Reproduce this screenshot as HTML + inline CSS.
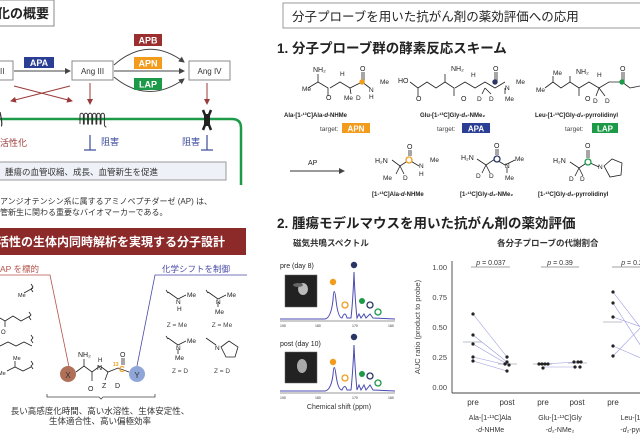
<!DOCTYPE html>
<html><head><meta charset="utf-8"><style>
html,body{margin:0;padding:0;background:#fff}
svg{display:block}
text{font-family:"Liberation Sans","Noto Sans CJK JP",sans-serif}
</style></head><body>
<svg width="640" height="440" viewBox="0 0 640 440" xmlns="http://www.w3.org/2000/svg">
<defs>
<marker id="ag" markerWidth="6" markerHeight="6" refX="5" refY="3" orient="auto"><path d="M0,0 L6,3 L0,6 z" fill="#444"/></marker>
<marker id="ar" markerWidth="6" markerHeight="6" refX="5" refY="3" orient="auto"><path d="M0,0 L6,3 L0,6 z" fill="#9b3a3a"/></marker>
</defs>
<!-- LEFT TOP -->
<rect x="-2" y="0" width="56" height="26" fill="#fff" stroke="#888" stroke-width="1"/>
<text x="-3" y="18" font-size="13" font-weight="bold" fill="#222">化の概要</text>
<rect x="-2" y="61" width="15" height="19" fill="#fff" stroke="#888"/>
<text x="0" y="74" font-size="8" fill="#333">II</text>
<line x1="14" y1="71" x2="70" y2="71" stroke="#444" stroke-width="1" marker-end="url(#ag)"/>
<rect x="24" y="57" width="30" height="11" fill="#2a3f94"/>
<text x="39" y="66" font-size="9" font-weight="bold" fill="#fff" text-anchor="middle">APA</text>
<rect x="72" y="61" width="41" height="19" fill="#fff" stroke="#888"/>
<text x="92.5" y="74" font-size="8" fill="#333" text-anchor="middle">Ang III</text>
<path d="M114,65 Q148,35 184,62" fill="none" stroke="#444" marker-end="url(#ag)"/>
<line x1="114" y1="71" x2="184" y2="71" stroke="#444" marker-end="url(#ag)"/>
<path d="M114,77 Q148,105 184,79" fill="none" stroke="#444" marker-end="url(#ag)"/>
<rect x="134" y="34" width="28" height="12" fill="#9b2e2e"/>
<text x="148" y="43.5" font-size="9" font-weight="bold" fill="#fff" text-anchor="middle">APB</text>
<rect x="134" y="57" width="28" height="12" fill="#f29b1d"/>
<text x="148" y="66.5" font-size="9" font-weight="bold" fill="#fff" text-anchor="middle">APN</text>
<rect x="134" y="78" width="28" height="12" fill="#1d9a48"/>
<text x="148" y="87.5" font-size="9" font-weight="bold" fill="#fff" text-anchor="middle">LAP</text>
<rect x="189" y="61" width="41" height="19" fill="#fff" stroke="#888"/>
<text x="209.5" y="74" font-size="8" fill="#333" text-anchor="middle">Ang IV</text>
<line x1="14" y1="86" x2="72" y2="101" stroke="#9b3a3a" marker-end="url(#ar)"/>
<line x1="70" y1="86" x2="11" y2="101" stroke="#9b3a3a" marker-end="url(#ar)"/>
<line x1="90" y1="83" x2="90" y2="104" stroke="#9b3a3a" marker-end="url(#ar)"/>
<line x1="207" y1="83" x2="207" y2="104" stroke="#9b3a3a" marker-end="url(#ar)"/>
<path d="M0,119 L232,119 Q241,119 241,128 L241,185" fill="none" stroke="#1d9a48" stroke-width="2.5"/>
<path d="M0,112 Q3,126 1,126" fill="none" stroke="#333" stroke-width="1.2"/>
<path d="M80,124 V115 a1.7,1.7 0 0 1 3.4,0 V124 a0.9,0.9 0 0 0 0.8,0 V115 a1.7,1.7 0 0 1 3.4,0 V124 a0.9,0.9 0 0 0 0.8,0 V115 a1.7,1.7 0 0 1 3.4,0 V124 a0.9,0.9 0 0 0 0.8,0 V115 a1.7,1.7 0 0 1 3.4,0 V124 a0.9,0.9 0 0 0 0.8,0 V115 a1.7,1.7 0 0 1 3.4,0 V124 a0.9,0.9 0 0 0 0.8,0 V115 a1.7,1.7 0 0 1 3.4,0 V124 q0,3 2,3" fill="none" stroke="#333" stroke-width="1"/>
<path d="M203,110 L211,130 M211,110 L203,130" stroke="#222" stroke-width="2.5"/>
<rect x="204" y="114" width="6" height="12" fill="#222"/>
<text x="0" y="146" font-size="9" fill="#9b3a3a">活性化</text>
<line x1="90" y1="135" x2="90" y2="150" stroke="#3a4a9b" stroke-width="1.2"/><line x1="84" y1="150" x2="96" y2="150" stroke="#3a4a9b" stroke-width="1.2"/>
<text x="101" y="145" font-size="9" fill="#3a4a9b">阻害</text>
<line x1="207" y1="135" x2="207" y2="150" stroke="#3a4a9b" stroke-width="1.2"/><line x1="201" y1="150" x2="213" y2="150" stroke="#3a4a9b" stroke-width="1.2"/>
<text x="182" y="145" font-size="9" fill="#3a4a9b">阻害</text>
<rect x="-2" y="162" width="228" height="18" fill="#eef1f7" stroke="#999"/>
<text x="5" y="175" font-size="8.5" fill="#333">腫瘍の血管収縮、成長、血管新生を促進</text>
<text x="0" y="204" font-size="8" fill="#333">アンジオテンシン系に属するアミノペプチダーゼ (AP) は、</text>
<text x="0" y="215" font-size="8" fill="#333">管新生に関わる重要なバイオマーカーである。</text>

<!-- LEFT BOTTOM -->
<rect x="-2" y="228" width="248" height="27" fill="#8c2a2a"/>
<text x="-3" y="246" font-size="12" font-weight="bold" fill="#fff">活性の生体内同時解析を実現する分子設計</text>
<text x="0" y="272" font-size="8.5" fill="#b5524a">AP を標的</text>
<polyline points="0,275 50,275 69,367" fill="none" stroke="#b5524a" stroke-width="0.8"/>
<text x="162" y="272" font-size="8.5" fill="#4a4aa8">化学シフトを制御</text>
<polyline points="247,275 155,275 137,366" fill="none" stroke="#4a4aa8" stroke-width="0.8"/>
<g fill="none" stroke="#222" stroke-width="0.8">
<path d="M24,293 L33,288 M31,284 l2,3 l-2,2 l2,3"/>
<path d="M0,318 l5,3 l0,6 M5,321 l8,-5 l8,5 l9,-5 M29,312 l2,3 l-2,2 l2,3"/>
<path d="M0,346 l8,-4 l8,4 l8,-4 l8,4 M31,335 l2,3 l-2,2 l2,3"/>
<path d="M7,371 l8,-4 l8,4 l8,-4 M15,367 v-6 M31,361 l2,3 l-2,2 l2,3"/>
</g>
<text x="18" y="297" font-size="5.5" fill="#222">Me</text>
<text x="1" y="334" font-size="6" fill="#222">O</text>
<text x="13" y="360" font-size="5.5" fill="#222">Me</text>
<text x="-2" y="375" font-size="5.5" fill="#222">Me</text>
<!-- center molecule -->
<circle cx="68" cy="374" r="8" fill="#b07058"/>
<text x="68" y="378" font-size="8" fill="#333" text-anchor="middle">X</text>
<circle cx="137" cy="374" r="8" fill="#8fa6d8"/>
<text x="137" y="378" font-size="8" fill="#333" text-anchor="middle">Y</text>
<g fill="none" stroke="#222" stroke-width="0.8">
<path d="M76,372 L84,366 L92,372 L100,366 L108,372 L118,368 L129,372"/>
<path d="M84,366 L84,359 M92,372 L92,381 M108,372 L105,380 M122,365 L122,358 M124,365 L124,358"/>
</g>
<text x="78" y="357" font-size="7" fill="#222">NH₂</text>
<text x="88" y="391" font-size="7" fill="#222">O</text>
<text x="98" y="362" font-size="6" fill="#222">H</text>
<text x="97" y="370" font-size="7" fill="#222">N</text>
<text x="102" y="388" font-size="7" fill="#222">Z</text>
<text x="115" y="388" font-size="7" fill="#222">D</text>
<text x="120" y="357" font-size="7" fill="#222">O</text>
<text x="113" y="366" font-size="5" fill="#f29b1d" font-weight="bold">13</text>
<text x="119" y="372" font-size="8" fill="#f29b1d" font-weight="bold">C</text>
<!-- Z groups -->
<g fill="none" stroke="#222" stroke-width="0.8">
<path d="M168,292 l10,7 l8,-4 M166,290 l2,3"/>
<path d="M208,292 l10,7 l8,-4 M218,302 v5 M206,290 l2,3"/>
<path d="M168,338 l10,7 l8,-4 M178,349 v5 M166,336 l2,3"/>
<path d="M206,338 l10,7"/>
<path d="M221,347 l8,-6 l9,6 l-3,10 h-9 z"/>
</g>
<text x="176" y="304" font-size="6.5" fill="#222">N</text><text x="177" y="311" font-size="6.5" fill="#222">H</text><text x="187" y="297" font-size="6.5" fill="#222">Me</text>
<text x="216" y="304" font-size="6.5" fill="#222">N</text><text x="215" y="314" font-size="6.5" fill="#222">Me</text><text x="227" y="297" font-size="6.5" fill="#222">Me</text>
<text x="176" y="350" font-size="6.5" fill="#222">N</text><text x="175" y="360" font-size="6.5" fill="#222">Me</text><text x="187" y="343" font-size="6.5" fill="#222">Me</text>
<text x="215" y="350" font-size="6.5" fill="#222">N</text>
<text x="177" y="327" font-size="6.5" fill="#444" text-anchor="middle">Z = Me</text>
<text x="222" y="327" font-size="6.5" fill="#444" text-anchor="middle">Z = Me</text>
<text x="180" y="373" font-size="6.5" fill="#444" text-anchor="middle">Z = D</text>
<text x="222" y="373" font-size="6.5" fill="#444" text-anchor="middle">Z = D</text>
<path d="M47,394 v3 h52 l2,2 l2,-2 h52 v-3" fill="none" stroke="#444" stroke-width="0.8"/>
<text x="100" y="414" font-size="8.5" fill="#333" text-anchor="middle">長い高感度化時間、高い水溶性、生体安定性、</text>
<text x="100" y="424" font-size="8.5" fill="#333" text-anchor="middle">生体適合性、高い偏極効率</text>

<!-- RIGHT TOP -->
<rect x="283" y="3" width="360" height="25" fill="#fff" stroke="#999"/>
<text x="292" y="21" font-size="12.5" fill="#222">分子プローブを用いた抗がん剤の薬効評価への応用</text>
<text x="277" y="53" font-size="13.5" font-weight="bold" fill="#222">1.  分子プローブ群の酵素反応スキーム</text>
<g fill="none" stroke="#222" stroke-width="0.8">
<path d="M308,88 l10,-6 l0,-8 M318,82 l10,6 l0,8 M330,88 l10,-6 l10,6 l12,-6 l8,6 M362,82 v-10 M364,82 v-10 M350,88 l1,6"/>
<path d="M410,82 l8,6 v8 M418,88 l9,-6 l9,6 l9,-6 v-8 M445,82 l9,6 v8 M455,88 l10,-6 l10,6 l10,-6 l10,6 l10,-6 M495,82 v-10 M497,82 v-10 M505,88 v6 M485,88 l-3,6 M485,88 l6,6"/>
<path d="M545,88 l8,-6 v-6 M553,82 l8,6 l9,-6 v-6 M570,82 l9,6 v8 M579,88 l10,-6 l10,6 l10,-6 l13,0 M622,82 v-10 M624,82 v-10 M599,88 l-3,8 M599,88 l6,8 M622,82 l8,6 l10,-2"/>
</g>
<text x="313" y="72" font-size="7" fill="#222">NH₂</text><text x="302" y="91" font-size="6.5" fill="#222">Me</text>
<text x="326" y="100" font-size="7" fill="#222">O</text><text x="340" y="76" font-size="6.5" fill="#222">H</text>
<text x="344" y="100" font-size="6.5" fill="#222">Me</text><text x="356" y="100" font-size="6.5" fill="#222">D</text>
<text x="360" y="71" font-size="7" fill="#222">O</text><text x="369" y="92" font-size="6.5" fill="#222">N</text><text x="369" y="99" font-size="6.5" fill="#222">H</text><text x="380" y="84" font-size="6.5" fill="#222">Me</text>
<circle cx="362" cy="82" r="2.7" fill="#f29b1d"/>
<text x="398" y="83" font-size="7" fill="#222">HO</text><text x="416" y="101" font-size="7" fill="#222">O</text>
<text x="451" y="71" font-size="7" fill="#222">NH₂</text><text x="461" y="101" font-size="7" fill="#222">O</text>
<text x="471" y="77" font-size="6.5" fill="#222">H</text><text x="477" y="101" font-size="6.5" fill="#222">D</text><text x="489" y="101" font-size="6.5" fill="#222">D</text>
<text x="493" y="71" font-size="7" fill="#222">O</text><text x="505" y="90" font-size="6.5" fill="#222">N</text><text x="516" y="84" font-size="6.5" fill="#222">Me</text><text x="505" y="101" font-size="6.5" fill="#222">Me</text>
<circle cx="495" cy="82" r="2.7" fill="#2a3566"/>
<text x="553" y="75" font-size="6.5" fill="#222">Me</text><text x="536" y="92" font-size="6.5" fill="#222">Me</text>
<text x="576" y="74" font-size="7" fill="#222">NH₂</text><text x="585" y="101" font-size="7" fill="#222">O</text>
<text x="597" y="77" font-size="6.5" fill="#222">H</text><text x="593" y="103" font-size="6.5" fill="#222">D</text><text x="605" y="103" font-size="6.5" fill="#222">D</text>
<text x="620" y="71" font-size="7" fill="#222">O</text>
<circle cx="622" cy="82" r="2.7" fill="#1d9a48"/>
<text x="284" y="117" font-size="6" font-weight="bold" fill="#222">Ala-[1-¹³C]Ala-<tspan font-style="italic">d</tspan>-NHMe</text>
<text x="420" y="117" font-size="6" font-weight="bold" fill="#222">Glu-[1-¹³C]Gly-<tspan font-style="italic">d</tspan>₂-NMe₂</text>
<text x="535" y="117" font-size="6" font-weight="bold" fill="#222">Leu-[1-¹³C]Gly-<tspan font-style="italic">d</tspan>₂-pyrrolidinyl</text>
<text x="320" y="131" font-size="6.5" fill="#444">target:</text>
<rect x="342" y="123" width="28" height="10" fill="#f29b1d"/><text x="356" y="131.5" font-size="8" font-weight="bold" fill="#fff" text-anchor="middle">APN</text>
<text x="437" y="131" font-size="6.5" fill="#444">target:</text>
<rect x="462" y="123" width="28" height="10" fill="#2a3f94"/><text x="476" y="131.5" font-size="8" font-weight="bold" fill="#fff" text-anchor="middle">APA</text>
<text x="565" y="131" font-size="6.5" fill="#444">target:</text>
<rect x="592" y="123" width="26" height="10" fill="#1d9a48"/><text x="605" y="131.5" font-size="8" font-weight="bold" fill="#fff" text-anchor="middle">LAP</text>
<text x="308" y="165" font-size="7" fill="#222">AP</text>
<line x1="290" y1="171" x2="344" y2="171" stroke="#333" stroke-width="1" marker-end="url(#ag)"/>
<g fill="none" stroke="#222" stroke-width="0.8">
<path d="M392,160 l8,6 l9,-6 l10,6 M400,166 l-4,8 M400,166 l4,8 M409,156 v-6 M411,156 v-6"/>
<path d="M477,159 l9,6 l9,-6 l10,6 l10,-5 M486,165 l-4,8 M486,165 l4,8 M496,155 v-6 M498,155 v-6 M507,167 v6"/>
<path d="M570,162 l9,6 l9,-6 l11,5 M579,168 l-4,8 M579,168 l4,8 M587,158 v-8 M589,158 v-8 M604,166 l8,-7 l10,4 l-1,12 l-11,2 z"/>
</g>
<text x="375" y="163" font-size="7" fill="#222">H₂N</text><text x="383" y="180" font-size="6.5" fill="#222">Me</text><text x="403" y="180" font-size="6.5" fill="#222">D</text>
<text x="407" y="149" font-size="7" fill="#222">O</text><text x="419" y="168" font-size="6.5" fill="#222">N</text><text x="419" y="176" font-size="6.5" fill="#222">H</text><text x="430" y="162" font-size="6.5" fill="#222">Me</text>
<circle cx="409" cy="160" r="3" fill="#fff" stroke="#f29b1d" stroke-width="1.3"/>
<text x="461" y="160" font-size="7" fill="#222">H₂N</text><text x="476" y="178" font-size="6.5" fill="#222">D</text><text x="489" y="178" font-size="6.5" fill="#222">D</text>
<text x="494" y="148" font-size="7" fill="#222">O</text><text x="505" y="168" font-size="6.5" fill="#222">N</text><text x="515" y="161" font-size="6.5" fill="#222">Me</text><text x="505" y="180" font-size="6.5" fill="#222">Me</text>
<circle cx="497" cy="159" r="3" fill="#fff" stroke="#2a3566" stroke-width="1.3"/>
<text x="553" y="163" font-size="7" fill="#222">H₂N</text><text x="569" y="181" font-size="6.5" fill="#222">D</text><text x="580" y="181" font-size="6.5" fill="#222">D</text>
<text x="585" y="148" font-size="7" fill="#222">O</text><text x="598" y="169" font-size="6.5" fill="#222">N</text>
<circle cx="588" cy="162" r="3" fill="#fff" stroke="#1d9a48" stroke-width="1.3"/>
<text x="372" y="196" font-size="6" font-weight="bold" fill="#222">[1-¹³C]Ala-<tspan font-style="italic">d</tspan>-NHMe</text>
<text x="460" y="196" font-size="6" font-weight="bold" fill="#222">[1-¹³C]Gly-<tspan font-style="italic">d</tspan>₂-NMe₂</text>
<text x="538" y="196" font-size="6" font-weight="bold" fill="#222">[1-¹³C]Gly-<tspan font-style="italic">d</tspan>₂-pyrrolidinyl</text>

<!-- RIGHT BOTTOM -->
<text x="277" y="228" font-size="13.5" font-weight="bold" fill="#222">2.  腫瘍モデルマウスを用いた抗がん剤の薬効評価</text>
<text x="293" y="246" font-size="8.5" font-weight="bold" fill="#333">磁気共鳴スペクトル</text>
<text x="497" y="246" font-size="8.5" font-weight="bold" fill="#333">各分子プローブの代謝割合</text>
<text x="280" y="268" font-size="7" fill="#222">pre (day 8)</text>
<rect x="285" y="275" width="32" height="32" fill="#222" stroke="#666" stroke-width="0.5"/>
<ellipse cx="303" cy="289" rx="5" ry="6" fill="#bbb"/><ellipse cx="298" cy="285" rx="5" ry="2" fill="#666"/>
<path d="M280,319 L325,319 Q331,318 333,300 Q334,283 336,300 Q338,318 342,318 Q345,310 347,318 L351,318 Q353,300 354,272 Q355,300 357,318 L359,314 L361,318 L364,314 L366,318 L370,314 L373,318 L395,319" fill="none" stroke="#4a4ab0" stroke-width="1"/>
<line x1="280" y1="321" x2="395" y2="321" stroke="#333" stroke-width="0.6"/>
<text x="280" y="327" font-size="3.5" fill="#333">190</text><text x="315" y="327" font-size="3.5" fill="#333">180</text><text x="352" y="327" font-size="3.5" fill="#333">170</text><text x="388" y="327" font-size="3.5" fill="#333">160</text>
<circle cx="333" cy="282" r="3.2" fill="#f29b1d"/><circle cx="345" cy="305" r="3" fill="#fff" stroke="#f29b1d" stroke-width="1.3"/>
<circle cx="354" cy="265" r="3.2" fill="#2a3566"/><circle cx="362" cy="301" r="3" fill="#1d9a48"/>
<circle cx="370" cy="305" r="3" fill="#fff" stroke="#2a3566" stroke-width="1.3"/><circle cx="378" cy="312" r="3" fill="#fff" stroke="#1d9a48" stroke-width="1.3"/>
<text x="280" y="346" font-size="7" fill="#222">post (day 10)</text>
<rect x="285" y="352" width="32" height="31" fill="#222" stroke="#666" stroke-width="0.5"/>
<ellipse cx="302" cy="366" rx="5" ry="7" fill="#aaa"/>
<path d="M280,391 L325,391 Q331,390 333,375 Q334,360 336,375 Q338,390 342,390 Q345,383 347,390 L351,390 Q353,370 354,345 Q355,370 357,390 L359,385 L361,390 L364,385 L366,390 L370,385 L373,390 L395,391" fill="none" stroke="#4a4ab0" stroke-width="1"/>
<line x1="280" y1="393" x2="395" y2="393" stroke="#333" stroke-width="0.6"/>
<text x="280" y="399" font-size="3.5" fill="#333">190</text><text x="315" y="399" font-size="3.5" fill="#333">180</text><text x="352" y="399" font-size="3.5" fill="#333">170</text><text x="388" y="399" font-size="3.5" fill="#333">160</text>
<circle cx="333" cy="362" r="3.2" fill="#f29b1d"/><circle cx="345" cy="378" r="3" fill="#fff" stroke="#f29b1d" stroke-width="1.3"/>
<circle cx="354" cy="337" r="3.2" fill="#2a3566"/><circle cx="362" cy="374" r="3" fill="#1d9a48"/>
<circle cx="370" cy="376" r="3" fill="#fff" stroke="#2a3566" stroke-width="1.3"/><circle cx="378" cy="383" r="3" fill="#fff" stroke="#1d9a48" stroke-width="1.3"/>
<text x="339" y="409" font-size="7" fill="#333" text-anchor="middle">Chemical shift (ppm)</text>
<!-- chart -->
<line x1="452" y1="261" x2="452" y2="393" stroke="#444" stroke-width="0.9"/>
<line x1="452" y1="393" x2="640" y2="393" stroke="#444" stroke-width="0.9"/>
<g font-size="7.5" fill="#444" text-anchor="end">
<text x="447" y="270">1.00</text><text x="447" y="300">0.75</text><text x="447" y="330">0.50</text><text x="447" y="360">0.25</text><text x="447" y="390">0.00</text></g>
<text transform="translate(420,327) rotate(-90)" font-size="7.5" fill="#444" text-anchor="middle">AUC ratio (product to probe)</text>
<g font-size="7" fill="#333" text-anchor="middle">
<text x="491" y="265"><tspan font-style="italic">p</tspan> = 0.037</text><text x="560" y="265"><tspan font-style="italic">p</tspan> = 0.39</text><text x="632" y="265"><tspan font-style="italic">p</tspan> = 0.2</text></g>
<g stroke="#444" stroke-width="0.6"><line x1="471" y1="267" x2="510" y2="267"/><line x1="541" y1="267" x2="579" y2="267"/><line x1="612" y1="267" x2="640" y2="267"/></g>
<g stroke="#aab" stroke-width="0.8">
<line x1="463" y1="342" x2="482" y2="342"/><line x1="498" y1="364" x2="517" y2="364"/>
<line x1="533" y1="364" x2="552" y2="364"/><line x1="568" y1="363" x2="587" y2="363"/>
<line x1="603" y1="322" x2="622" y2="322"/></g>
<g stroke="#9a9ae0" stroke-width="0.6">
<line x1="473" y1="314" x2="507" y2="357"/><line x1="473" y1="335" x2="507" y2="362"/><line x1="473" y1="344" x2="507" y2="364"/><line x1="473" y1="357" x2="507" y2="365"/><line x1="473" y1="361" x2="507" y2="371"/>
<line x1="543" y1="364" x2="577" y2="362"/><line x1="543" y1="367" x2="577" y2="367"/>
<line x1="613" y1="292" x2="650" y2="340"/><line x1="613" y1="303" x2="650" y2="360"/><line x1="613" y1="317" x2="650" y2="330"/><line x1="613" y1="346" x2="650" y2="362"/><line x1="613" y1="356" x2="650" y2="318"/></g>
<g fill="#222">
<circle cx="473" cy="314" r="1.6"/><circle cx="473" cy="335" r="1.6"/><circle cx="473" cy="344" r="1.6"/><circle cx="473" cy="357" r="1.6"/><circle cx="473" cy="361" r="1.6"/>
<circle cx="507" cy="357" r="1.6"/><circle cx="507" cy="362" r="1.6"/><circle cx="505" cy="364" r="1.6"/><circle cx="509" cy="365" r="1.6"/><circle cx="507" cy="371" r="1.6"/>
<circle cx="539" cy="364" r="1.6"/><circle cx="542" cy="364" r="1.6"/><circle cx="545" cy="364" r="1.6"/><circle cx="548" cy="364" r="1.6"/><circle cx="543" cy="368" r="1.6"/>
<circle cx="574" cy="362" r="1.6"/><circle cx="578" cy="362" r="1.6"/><circle cx="581" cy="362" r="1.6"/><circle cx="575" cy="367" r="1.6"/><circle cx="580" cy="367" r="1.6"/>
<circle cx="613" cy="292" r="1.6"/><circle cx="613" cy="303" r="1.6"/><circle cx="613" cy="317" r="1.6"/><circle cx="613" cy="346" r="1.6"/><circle cx="613" cy="356" r="1.6"/></g>
<g font-size="8" fill="#333" text-anchor="middle">
<text x="473" y="405">pre</text><text x="507" y="405">post</text><text x="543" y="405">pre</text><text x="577" y="405">post</text><text x="613" y="405">pre</text></g>
<g font-size="7" fill="#333" text-anchor="middle">
<text x="490" y="420">Ala-[1-¹³C]Ala</text><text x="490" y="432">-<tspan font-style="italic">d</tspan>-NHMe</text>
<text x="560" y="420">Glu-[1-¹³C]Gly</text><text x="560" y="432">-<tspan font-style="italic">d</tspan>₂-NMe₂</text>
<text x="634" y="420">Leu-[1-¹³</text><text x="634" y="432">-<tspan font-style="italic">d</tspan>₂-pyrro</text></g>
</svg>
</body></html>
